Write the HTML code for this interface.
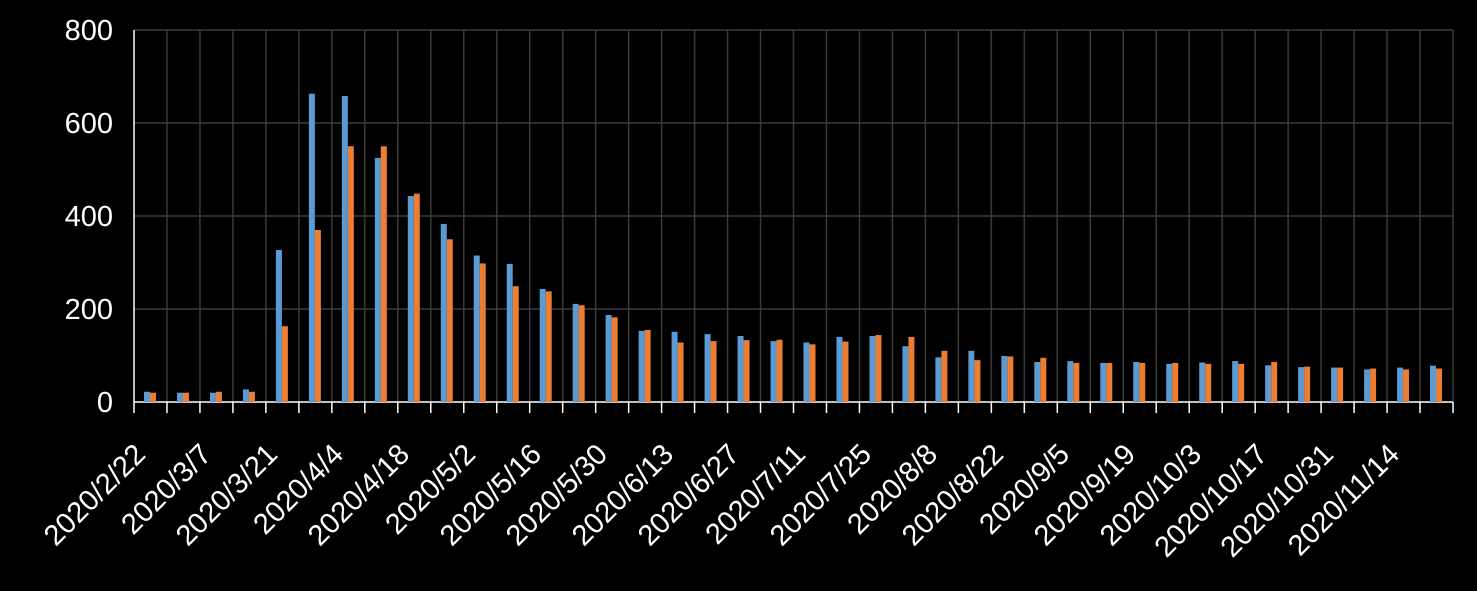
<!DOCTYPE html>
<html><head><meta charset="utf-8"><style>
html,body{margin:0;padding:0;background:#000;}
svg{display:block;}
text{font-family:"Liberation Sans",sans-serif;fill:#fff;}
</style></head><body>
<svg id="c" width="1477" height="591" viewBox="0 0 1477 591" xmlns="http://www.w3.org/2000/svg">
<rect width="1477" height="591" fill="#000"/>
<g id="grid"></g>
<g id="bars"></g>
<g font-size="29" text-anchor="end">
<text x="113" y="412">0</text>
<text x="113" y="319">200</text>
<text x="113" y="226">400</text>
<text x="113" y="133">600</text>
<text x="113" y="40">800</text>
</g>
<g font-size="29" text-anchor="end">
<text transform="translate(147,456) rotate(-45)">2020/2/22</text>
<text transform="translate(213,456) rotate(-45)">2020/3/7</text>
<text transform="translate(279,456) rotate(-45)">2020/3/21</text>
<text transform="translate(345,456) rotate(-45)">2020/4/4</text>
<text transform="translate(411,456) rotate(-45)">2020/4/18</text>
<text transform="translate(477,456) rotate(-45)">2020/5/2</text>
<text transform="translate(543,456) rotate(-45)">2020/5/16</text>
<text transform="translate(609,456) rotate(-45)">2020/5/30</text>
<text transform="translate(675,456) rotate(-45)">2020/6/13</text>
<text transform="translate(741,456) rotate(-45)">2020/6/27</text>
<text transform="translate(807,456) rotate(-45)">2020/7/11</text>
<text transform="translate(873,456) rotate(-45)">2020/7/25</text>
<text transform="translate(939,456) rotate(-45)">2020/8/8</text>
<text transform="translate(1005,456) rotate(-45)">2020/8/22</text>
<text transform="translate(1071,456) rotate(-45)">2020/9/5</text>
<text transform="translate(1137,456) rotate(-45)">2020/9/19</text>
<text transform="translate(1203,456) rotate(-45)">2020/10/3</text>
<text transform="translate(1269,456) rotate(-45)">2020/10/17</text>
<text transform="translate(1335,456) rotate(-45)">2020/10/31</text>
<text transform="translate(1401,456) rotate(-45)">2020/11/14</text>
</g>
</svg>
<script>
var ns="http://www.w3.org/2000/svg";
function el(p,t,a){var e=document.createElementNS(ns,t);for(var k in a)e.setAttribute(k,a[k]);p.appendChild(e);}
var g=document.getElementById("grid"),b=document.getElementById("bars");
var x0=134,x1=1453,y0=402,s=0.465,n=40,w=(x1-x0)/n;
for(var v=200;v<=800;v+=200)el(g,"line",{x1:x0,x2:x1,y1:y0-v*s,y2:y0-v*s,stroke:"#3a3a3a","stroke-width":1.5});
for(var i=1;i<=n;i++){el(g,"line",{x1:x0+i*w,x2:x0+i*w,y1:30,y2:y0,stroke:"#3a3a3a","stroke-width":1.5});
el(g,"line",{x1:x0+i*w,x2:x0+i*w,y1:y0,y2:y0+11,stroke:"#fff","stroke-width":1.5});}
el(g,"line",{x1:x0,x2:x0,y1:30,y2:y0+11,stroke:"#fff","stroke-width":1.5});
el(g,"line",{x1:x0,x2:x1,y1:y0,y2:y0,stroke:"#fff","stroke-width":1.5});
var d=[[22,20],[20,20],[20,22],[27,22],[327,163],[663,370],[658,550],[525,550],[443,448],[383,350],[315,298],[297,249],[243,238],[211,208],[187,182],[153,155],[151,128],[146,131],[142,133],[131,134],[128,124],[140,130],[142,144],[120,140],[96,110],[110,90],[99,98],[86,95],[88,84],[84,84],[86,84],[82,84],[85,82],[88,82],[79,86],[75,76],[74,74],[70,72],[74,70],[78,72]];
for(var i=0;i<n;i++){var cx=x0+i*w;
el(b,"rect",{x:cx+10,y:y0-d[i][0]*s,width:6,height:d[i][0]*s,fill:"#5B9BD5"});
el(b,"rect",{x:cx+16,y:y0-d[i][1]*s,width:6,height:d[i][1]*s,fill:"#ED7D31"});}
</script>
</body></html>
